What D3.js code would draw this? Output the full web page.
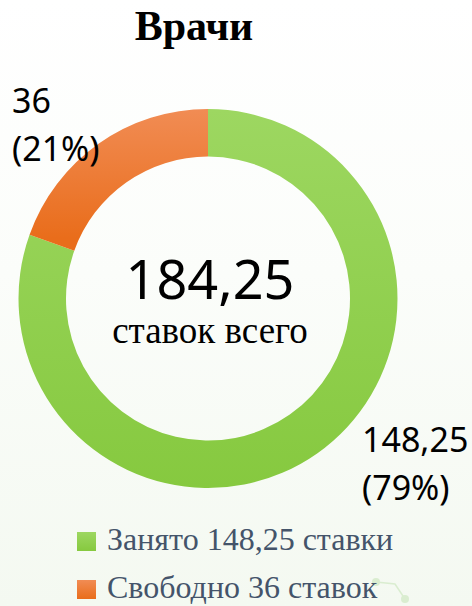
<!DOCTYPE html>
<html>
<head>
<meta charset="utf-8">
<script src="https://cdn.jsdelivr.net/npm/d3@7"></script>
<style>
  html, body { margin: 0; padding: 0; background: #fff; }
</style>
</head>
<body>
<div id="chart"></div>
<script>
const width = 472;
const height = 606;

// data
const categories = ['Занято', 'Свободно'];
const values = [148.25, 36];
const valueLabels = ['148,25', '36'];
const percentLabels = ['(79%)', '(21%)'];
const legendLabels = ['Занято 148,25 ставки', 'Свободно 36 ставок'];
const totalLabel = '184,25';
const totalCaption = 'ставок всего';
const title = 'Врачи';

const cx = 208;
const cy = 298.5;
const outerR = 189.5;
const innerR = 142;

const sansFont = 'Noto Sans';
const serifFont = 'Liberation Serif';

const svg = d3.select('#chart')
    .append('svg')
    .attr('width', width)
    .attr('height', height);

const defs = svg.append('defs');

const bg = defs.append('linearGradient')
    .attr('id', 'bg')
    .attr('x1', 0).attr('y1', 0).attr('x2', 0).attr('y2', 1);
bg.append('stop').attr('offset', '0%').attr('stop-color', '#ffffff');
bg.append('stop').attr('offset', '45%').attr('stop-color', '#fbfdfa');
bg.append('stop').attr('offset', '100%').attr('stop-color', '#f4f9f1');

// slice gradients in the donut's local space: [top colour, bottom colour, end y]
const gradColors = [['#9dd761', '#86c93f', outerR], ['#f18c54', '#e96d1b', -60]];
gradColors.forEach((c, i) => {
    const g = defs.append('linearGradient')
        .attr('id', 'slice' + i)
        .attr('gradientUnits', 'userSpaceOnUse')
        .attr('x1', 0).attr('y1', -outerR)
        .attr('x2', 0).attr('y2', c[2]);
    g.append('stop').attr('offset', '0%').attr('stop-color', c[0]);
    g.append('stop').attr('offset', '100%').attr('stop-color', c[1]);

    const l = defs.append('linearGradient')
        .attr('id', 'leg' + i)
        .attr('x1', 0).attr('y1', 0).attr('x2', 0).attr('y2', 1);
    l.append('stop').attr('offset', '0%').attr('stop-color', c[0]);
    l.append('stop').attr('offset', '100%').attr('stop-color', c[1]);
});

svg.append('rect')
    .attr('width', width)
    .attr('height', height)
    .attr('fill', 'url(#bg)');

// faint background decoration
const deco = svg.append('g')
    .attr('stroke', '#d4ebc8')
    .attr('fill', '#d4ebc8')
    .attr('opacity', 0.8);
deco.append('path')
    .attr('d', 'M376,582 L395,584 L405,599')
    .attr('fill', 'none')
    .attr('stroke-width', 1.5);
deco.append('circle').attr('cx', 376).attr('cy', 582).attr('r', 4).attr('stroke', 'none');
deco.append('circle').attr('cx', 405).attr('cy', 599).attr('r', 4).attr('stroke', 'none');

// title
svg.append('text')
    .attr('x', 194)
    .attr('y', 40)
    .attr('text-anchor', 'middle')
    .attr('font-family', serifFont)
    .attr('font-weight', 'bold')
    .attr('font-size', 42)
    .attr('fill', '#000')
    .text(title);

// donut
const pie = d3.pie().sort(null).value((d) => d);
const arc = d3.arc().innerRadius(innerR).outerRadius(outerR);

const donut = svg.append('g')
    .attr('transform', `translate(${cx},${cy})`);

donut.selectAll('path')
    .data(pie(values))
    .enter()
    .append('path')
    .attr('d', arc)
    .attr('fill', (d, i) => `url(#slice${i})`);

// center text
svg.append('text')
    .attr('x', 210)
    .attr('y', 299)
    .attr('text-anchor', 'middle')
    .attr('font-family', sansFont)
    .attr('font-size', 54)
    .attr('fill', '#000')
    .text(totalLabel);

svg.append('text')
    .attr('x', 210)
    .attr('y', 343)
    .attr('text-anchor', 'middle')
    .attr('font-family', serifFont)
    .attr('font-size', 37)
    .attr('fill', '#000')
    .text(totalCaption);

// data labels
const labelPos = [
    { x: 362, y: 452 },
    { x: 12, y: 113 },
];
categories.forEach((c, i) => {
    const t = svg.append('text')
        .attr('x', labelPos[i].x)
        .attr('y', labelPos[i].y)
        .attr('font-family', sansFont)
        .attr('font-size', 34)
        .attr('fill', '#000');
    t.append('tspan').attr('x', labelPos[i].x).text(valueLabels[i]);
    t.append('tspan').attr('x', labelPos[i].x).attr('dy', 48).text(percentLabels[i]);
});

// legend
const legend = svg.append('g')
    .attr('transform', 'translate(77,532)');

const rows = legend.selectAll('g')
    .data(categories)
    .enter()
    .append('g')
    .attr('transform', (d, i) => `translate(0,${i * 48})`);

rows.append('rect')
    .attr('width', 19)
    .attr('height', 19)
    .attr('fill', (d, i) => `url(#leg${i})`);

rows.append('text')
    .attr('x', 30)
    .attr('y', 18)
    .attr('font-family', serifFont)
    .attr('font-size', 32)
    .attr('fill', '#44546a')
    .text((d, i) => legendLabels[i]);
</script>
</body>
</html>
